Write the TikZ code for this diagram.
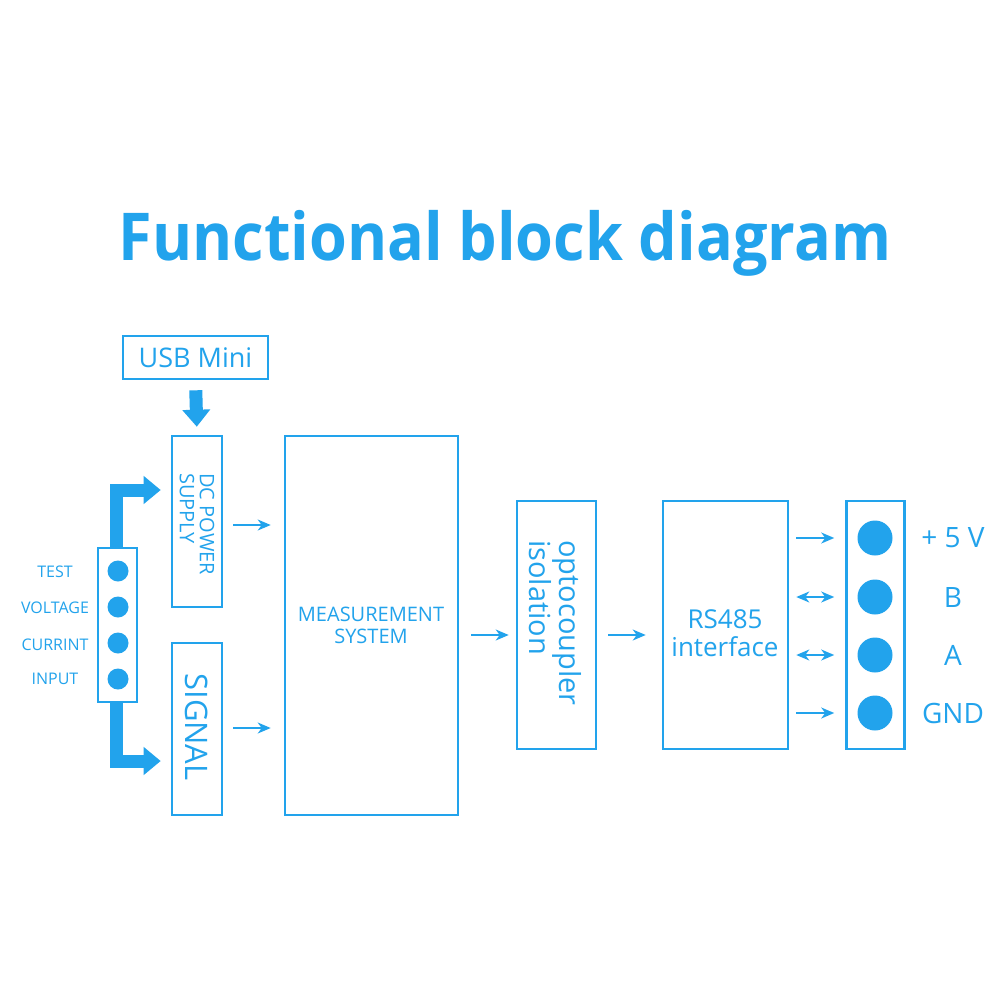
\documentclass[tikz,border=0pt]{standalone}
\usepackage{fontspec}
\setmainfont{Open Sans}
\usetikzlibrary{arrows.meta}
\definecolor{cb}{RGB}{34,163,236}
\tikzset{
  blk/.style={draw=cb, line width=2.6pt, inner sep=0pt, text=cb},
  thin/.style={draw=cb, line width=1.6pt, -{Stealth[length=13pt,width=11pt,inset=4pt]}},
  both/.style={draw=cb, line width=1.6pt, {Stealth[length=13pt,width=11pt,inset=4pt]}-{Stealth[length=13pt,width=11pt,inset=4pt]}},
  fat/.style={draw=cb, line width=13pt, line join=miter, -{Triangle[length=17pt,width=27pt]}},
  bigdot/.style={circle, fill=cb, inner sep=0pt, minimum size=35pt},
  smalldot/.style={circle, fill=cb, inner sep=0pt, minimum size=21pt},
  lbl/.style={text=cb, inner sep=0pt},
}
\begin{document}
\begin{tikzpicture}[x=1pt,y=-1pt]
\useasboundingbox (0,0) rectangle (1000,1000);
\fill[white] (0,0) rectangle (1000,1000);
% title
\node[lbl, font=\bfseries\fontsize{66}{72}\selectfont] (title) at (505,243) {\scalebox{0.926}[1]{Functional block diagram}};
% boxes
\node[blk, minimum width=145pt, minimum height=43pt, font=\fontsize{27}{30}\selectfont] (usb) at (195.5,357.5) {USB Mini};
\node[blk, minimum width=50pt, minimum height=171pt] (dc) at (197,521.5) {};
\node[lbl, rotate=-90, anchor=west, align=left, font=\fontsize{20}{20}\selectfont] (dct) at (197,473) {DC POWER\\SUPPLY};
\node[blk, minimum width=50pt, minimum height=172pt] (sig) at (197,729) {};
\node[lbl, rotate=-90, font=\fontsize{31}{34}\selectfont] (sigt) at (197,727) {SIGNAL};
\node[blk, minimum width=173pt, minimum height=379pt] (meas) at (371.5,625.5) {};
\node[lbl, align=center, font=\fontsize{20}{22}\selectfont] (meast) at (371,625) {MEASUREMENT\\SYSTEM};
\node[blk, minimum width=79pt, minimum height=248pt] (opto) at (556.5,625) {};
\node[lbl, rotate=-90, anchor=west, align=left, font=\fontsize{29}{28}\selectfont] (optot) at (555,540) {optocoupler\\isolation};
\node[blk, minimum width=125pt, minimum height=248pt] (rs) at (725.5,625) {};
\node[lbl, align=center, font=\fontsize{26}{28}\selectfont] (rst) at (725,633) {RS485\\interface};
\node[blk, minimum width=39pt, minimum height=154pt] (term) at (117.5,625) {};
\node[blk, minimum width=58pt, minimum height=248pt] (conn) at (875.5,625) {};
% dots
\node[smalldot] (t1) at (118,571) {};
\node[smalldot] (t2) at (118,607) {};
\node[smalldot] (t3) at (118,643) {};
\node[smalldot] (t4) at (118,679) {};
\node[bigdot] (p1) at (875,538) {};
\node[bigdot] (p2) at (875,597) {};
\node[bigdot] (p3) at (875,655) {};
\node[bigdot] (p4) at (875,713) {};
% labels
\node[lbl, font=\fontsize{16}{18}\selectfont] (l1) at (55,572) {TEST};
\node[lbl, font=\fontsize{16}{18}\selectfont] (l2) at (55,608) {VOLTAGE};
\node[lbl, font=\fontsize{16}{18}\selectfont] (l3) at (55,645) {CURRINT};
\node[lbl, font=\fontsize{16}{18}\selectfont] (l4) at (55,679) {INPUT};
\node[lbl, font=\fontsize{28}{30}\selectfont] (r1) at (953,538) {+ 5 V};
\node[lbl, font=\fontsize{28}{30}\selectfont] (r2) at (953,597) {B};
\node[lbl, font=\fontsize{28}{30}\selectfont] (r3) at (953,655) {A};
\node[lbl, font=\fontsize{28}{30}\selectfont] (r4) at (953,713) {GND};
% fat arrows
\draw[fat, shorten <=10pt, shorten >=8pt] (usb.south) -- (dc.north);
\draw[fat, shorten >=10pt] ([xshift=-1.5pt]term.north) |- ([yshift=31.5pt]dc.west);
\draw[fat, shorten >=10pt] ([xshift=-1.5pt]term.south) |- ([yshift=-32pt]sig.west);
% thin arrows
\draw[thin, shorten <=10pt, shorten >=13pt] ([yshift=-3.5pt]dc.east) -- ([yshift=-3.5pt]dc.east -| meas.west);
\draw[thin, shorten <=10pt, shorten >=13pt] ([yshift=1pt]sig.east) -- ([yshift=1pt]sig.east -| meas.west);
\draw[thin, shorten <=12pt, shorten >=7pt] ([yshift=-9.5pt]meas.east) -- ([yshift=-9.5pt]meas.east -| opto.west);
\draw[thin, shorten <=11pt, shorten >=16pt] ([yshift=-10pt]opto.east) -- ([yshift=-10pt]opto.east -| rs.west);
\draw[thin, shorten <=7pt, shorten >=11pt] (p1 -| rs.east) -- (p1 -| conn.west);
\draw[both, shorten <=7pt, shorten >=11pt] (p2 -| rs.east) -- (p2 -| conn.west);
\draw[both, shorten <=7pt, shorten >=11pt] (p3 -| rs.east) -- (p3 -| conn.west);
\draw[thin, shorten <=7pt, shorten >=11pt] (p4 -| rs.east) -- (p4 -| conn.west);
\end{tikzpicture}
\end{document}
